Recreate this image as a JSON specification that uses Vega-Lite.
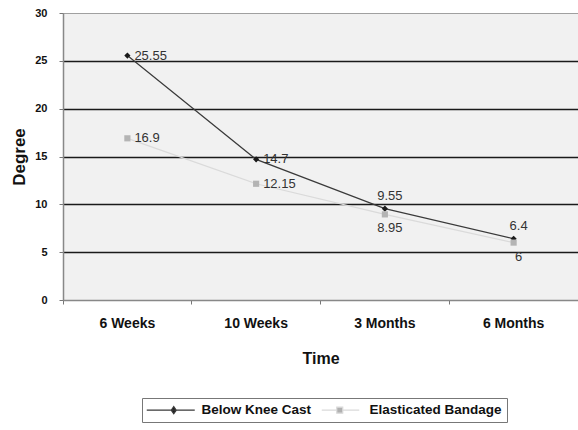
{
  "$schema": "https://vega.github.io/schema/vega-lite/v6.json",
  "autosize": "none",
  "width": 515,
  "height": 287,
  "padding": {"left": 63, "top": 13, "right": 0, "bottom": 130},
  "background": "#ffffff",
  "config": {
    "view": {"fill": "#f1f1f1", "stroke": "#9a9a9a", "strokeWidth": 1},
    "font": "Liberation Sans"
  },
  "data": {
    "values": [
      {"Time": "6 Weeks", "Series": "Below Knee Cast", "Degree": 25.55},
      {"Time": "10 Weeks", "Series": "Below Knee Cast", "Degree": 14.7},
      {"Time": "3 Months", "Series": "Below Knee Cast", "Degree": 9.55},
      {"Time": "6 Months", "Series": "Below Knee Cast", "Degree": 6.4},
      {"Time": "6 Weeks", "Series": "Elasticated Bandage", "Degree": 16.9},
      {"Time": "10 Weeks", "Series": "Elasticated Bandage", "Degree": 12.15},
      {"Time": "3 Months", "Series": "Elasticated Bandage", "Degree": 8.95},
      {"Time": "6 Months", "Series": "Elasticated Bandage", "Degree": 6}
    ]
  },
  "encoding": {
    "x": {
      "field": "Time",
      "type": "nominal",
      "sort": ["6 Weeks", "10 Weeks", "3 Months", "6 Months"],
      "scale": {"type": "band", "paddingInner": 0, "paddingOuter": 0},
      "axis": {
        "title": "Time",
        "titleFont": "Liberation Sans",
        "titleFontSize": 16,
        "titleFontWeight": "bold",
        "titleColor": "#111111",
        "titlePadding": 20,
        "labelAngle": 0,
        "labelFont": "Liberation Sans",
        "labelFontSize": 14,
        "labelFontWeight": "bold",
        "labelColor": "#111111",
        "labelPadding": 12,
        "bandPosition": 0,
        "ticks": true,
        "tickSize": 4,
        "tickColor": "#777777",
        "domainColor": "#888888",
        "domainWidth": 1.5,
        "grid": false
      }
    },
    "y": {
      "field": "Degree",
      "type": "quantitative",
      "scale": {"domain": [0, 30], "nice": false, "zero": true},
      "axis": {
        "title": "Degree",
        "titleFont": "Liberation Sans",
        "titleFontSize": 17,
        "titleFontWeight": "bold",
        "titleColor": "#111111",
        "titlePadding": 6,
        "values": [0, 5, 10, 15, 20, 25, 30],
        "labelFont": "Liberation Sans",
        "labelFontSize": 11,
        "labelFontWeight": "bold",
        "labelColor": "#111111",
        "labelPadding": 12,
        "tickSize": 4,
        "tickColor": "#777777",
        "domainColor": "#888888",
        "domainWidth": 1.5,
        "grid": true,
        "gridColor": {"condition": {"test": "datum.value == 30 || datum.value == 0", "value": "#a0a0a0"}, "value": "#1a1a1a"},
        "gridWidth": {"condition": {"test": "datum.value == 30 || datum.value == 0", "value": 1}, "value": 1.6}
      }
    }
  },
  "layer": [
    {
      "mark": {"type": "line", "strokeWidth": 1.2},
      "encoding": {
        "color": {
          "field": "Series",
          "type": "nominal",
          "scale": {"domain": ["Below Knee Cast", "Elasticated Bandage"], "range": ["#3a3a3a", "#dadada"]},
          "legend": {
            "title": null,
            "orient": "none",
            "legendX": 79,
            "legendY": 385,
            "direction": "horizontal",
            "strokeColor": "#777777",
            "fillColor": "#ffffff",
            "padding": 5,
            "symbolSize": 100,
            "symbolType": "M-1,0H1",
            "symbolStrokeWidth": 1.2,
            "labelOffset": 41,
            "columnPadding": 3,
            "labelFont": "Liberation Sans",
            "labelFontSize": 13.5,
            "labelFontWeight": "bold",
            "labelColor": "#111111",
            "encode": {
              "symbols": {
                "update": {
                  "shape": {"signal": "datum.value === 'Below Knee Cast' ? 'M-1.4,0H8.2M4,-0.7L4.5,0L4,0.7L3.5,0Z' : 'M0,0H2.9M4.3,0H7.5M3,-0.6H4.2V0.6H3Z'"},
                  "fill": {"signal": "datum.value === 'Below Knee Cast' ? '#1a1a1a' : '#b0b0b0'"},
                  "stroke": {"signal": "datum.value === 'Below Knee Cast' ? '#2a2a2a' : '#d6d6d6'"},
                  "strokeWidth": {"value": 1.2},
                  "opacity": {"value": 1}
                }
              }
            }
          }
        }
      }
    },
    {
      "transform": [{"filter": {"field": "Series", "equal": "Below Knee Cast"}}],
      "mark": {"type": "point", "filled": true, "opacity": 1, "shape": "diamond", "color": "#1a1a1a", "size": 38}
    },
    {
      "transform": [{"filter": {"field": "Series", "equal": "Elasticated Bandage"}}],
      "mark": {"type": "point", "filled": true, "opacity": 1, "shape": "square", "color": "#b4b4b4", "size": 38}
    },
    {
      "transform": [{"filter": {"field": "Time", "oneOf": ["6 Weeks", "10 Weeks"]}}],
      "mark": {"type": "text", "align": "left", "baseline": "middle", "dx": 7, "font": "Liberation Sans", "fontSize": 13, "color": "#333333"},
      "encoding": {"text": {"field": "Degree", "type": "quantitative"}}
    },
    {
      "transform": [
        {"filter": {"field": "Time", "oneOf": ["3 Months", "6 Months"]}},
        {"filter": {"field": "Series", "equal": "Below Knee Cast"}}
      ],
      "mark": {"type": "text", "align": "center", "baseline": "bottom", "dx": 5, "dy": -6, "font": "Liberation Sans", "fontSize": 13, "color": "#333333"},
      "encoding": {"text": {"field": "Degree", "type": "quantitative"}}
    },
    {
      "transform": [
        {"filter": {"field": "Time", "oneOf": ["3 Months", "6 Months"]}},
        {"filter": {"field": "Series", "equal": "Elasticated Bandage"}}
      ],
      "mark": {"type": "text", "align": "center", "baseline": "top", "dx": 5, "dy": 8, "font": "Liberation Sans", "fontSize": 13, "color": "#333333"},
      "encoding": {"text": {"field": "Degree", "type": "quantitative"}}
    }
  ]
}
